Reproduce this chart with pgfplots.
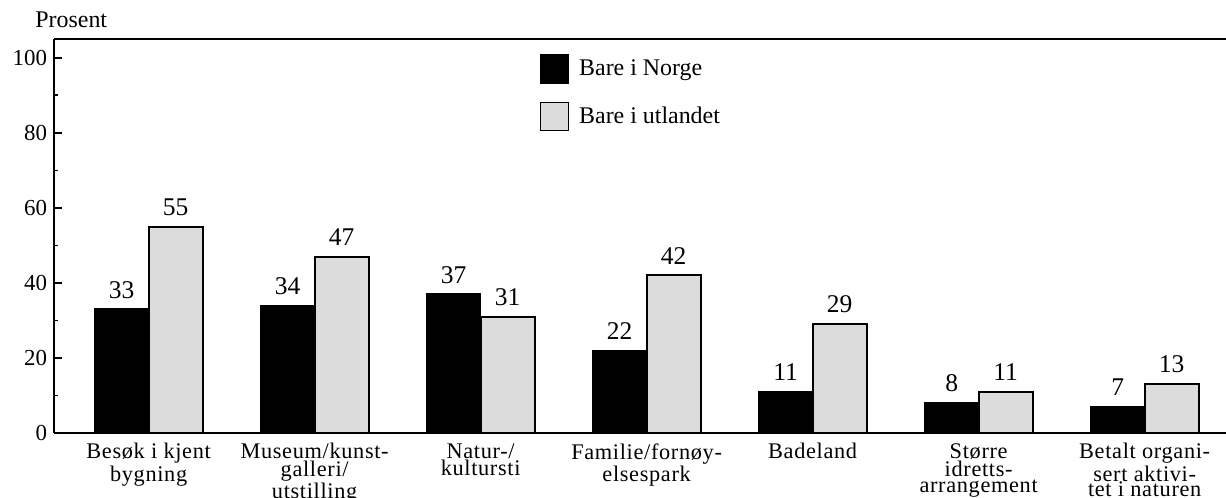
\documentclass[border=0pt]{standalone}
\usepackage{pgfplots}
\pgfplotsset{compat=1.18}
\usepackage{fontspec}
\setmainfont{Liberation Serif}
\definecolor{stipple}{HTML}{DCDCDC}
\begin{document}
\begin{tikzpicture}
\begin{axis}[scale only axis,width=586bp,height=197bp,
  ybar=0pt,bar width=27bp,
  xmin=-0.57,xmax=6.49,ymin=0,ymax=105,
  axis x line*=box,axis y line*=left,
  axis line style={line width=1.1bp},
  xtick={0,...,6},
  xticklabels={Besøk i kjent\\bygning,Museum/kunst-\\galleri/\\utstilling,
    Natur-/\\kultursti,Familie/fornøy-\\elsespark,Badeland,
    Større\\idretts-\\arrangement,Betalt organi-\\sert aktivi-\\tet i naturen},
  x tick style={draw=none},
  x tick label style={align=center,
    font=\fontsize{11.2}{7.8}\selectfont\addfontfeature{LetterSpace=3},
    inner sep=0pt,yshift=-5bp},
  ytick={0,20,...,100},minor y tick num=1,
  tick align=inside,
  y tick style={line width=0.8bp,black},
  major tick length=4bp,minor tick length=2bp,
  y tick label style={font=\fontsize{11.5}{13}\selectfont},
  /pgf/number format/assume math mode=true,
  nodes near coords,
  every node near coord/.append style={font=\fontsize{12.8}{14}\selectfont,
    inner sep=0pt,anchor=south,yshift=5bp,black},
  legend style={draw=none,fill=none,at={(rel axis cs:0.414,0.963)},
    anchor=north west,font=\fontsize{12}{13}\selectfont,
    row sep=9bp,inner sep=0pt},
  legend cell align=left,
  legend image code/.code={\draw[#1,line width=0.8bp] (0bp,-7bp) rectangle (14bp,7bp);},
  clip=false]
\addplot[fill=black,draw=black,line width=0.8bp] coordinates {
  (0,33)(1,34)(2,37)(3,22)(4,11)(5,8)(6,7)};
\addplot[fill=stipple,draw=black,line width=1bp] coordinates {
  (0,55)(1,47)(2,31)(3,42)(4,29)(5,11)(6,13)};
\legend{\hspace{3bp}Bare i Norge,\hspace{3bp}Bare i utlandet}
\node[anchor=base west,font=\fontsize{12}{13}\selectfont,inner sep=0pt]
  at ([xshift=-9.5bp,yshift=5.5bp]rel axis cs:0,1) {Prosent};
\end{axis}
\pgfresetboundingbox
\path (-27bp,-32.5bp) rectangle (586bp,216.5bp);
\end{tikzpicture}
\end{document}
